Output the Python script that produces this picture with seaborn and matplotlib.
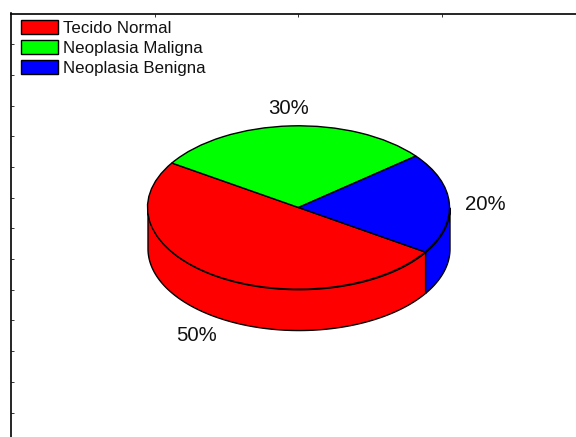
import numpy as np
import matplotlib
matplotlib.use('Agg')
import matplotlib.pyplot as plt
import seaborn as sns

# dados
categorias = ['Tecido Normal', 'Neoplasia Maligna', 'Neoplasia Benigna']
valores = [50, 30, 20]
cores = ['#ff0000', '#00ff00', '#0000ff']

W, H = 576, 437
# geometria do disco em pixels
CX, CY, RX, RY = 298.5, 207.5, 151, 81.7
PROF = 0.5
INICIO = 327

sns.set_theme(style='ticks')
plt.rcParams['font.family'] = ['Liberation Sans', 'DejaVu Sans']
paleta = sns.color_palette(cores)

fig = plt.figure(figsize=(W / 100, H / 100), dpi=100)
esq, dir_, topo, base = 11, 585, 13.5, 443.3
ax = fig.add_axes([esq / W, 1 - base / H, (dir_ - esq) / W, (base - topo) / H])

wedges, _, autotexts = ax.pie(
    valores, colors=paleta, startangle=INICIO, counterclock=False,
    radius=1, frame=True, autopct='%1.0f%%', pctdistance=1.24,
    wedgeprops={'edgecolor': 'black', 'linewidth': 1, 'zorder': 3},
    textprops={'fontsize': 14.7, 'color': '#111111'},
)
ax.set_aspect('auto')
ax.set_xlim((esq - CX) / RX, (dir_ - CX) / RX)
ax.set_ylim((CY - base) / RY, (CY - topo) / RY)

# rotulos da frente descem junto com a lateral
for t in autotexts:
    x, y = t.get_position()
    if y < 0:
        y -= PROF
    t.set_position((x, y - 0.03))

# lateral do disco: parte frontal de cada fatia
ang = INICIO
for val, cor in zip(valores, paleta):
    fim = ang - val / sum(valores) * 360
    a0, a1 = sorted([ang, fim])
    for volta in (0, 360):
        ini = max(a0 + volta, 180)
        ult = min(a1 + volta, 360)
        if ult > ini:
            t = np.radians(np.linspace(ini, ult, 100))
            ax.fill_between(np.cos(t), np.sin(t) - PROF, np.sin(t), color=cor,
                            edgecolor='black', linewidth=1, zorder=2)
    ang = fim

# eixos: so topo e esquerda, com marcas para dentro
sns.despine(ax=ax, top=False, right=True, left=False, bottom=True)
ax.spines['top'].set_linewidth(1.2)
ax.spines['left'].set_linewidth(1.2)
ax.spines['top'].set_color('black')
ax.spines['left'].set_color('black')
ax.xaxis.tick_top()
ax.set_xticks((np.array([155, 298, 442]) - CX) / RX)
ax.set_yticks((CY - (topo + 30.7 * np.arange(1, 14))) / RY)
ax.tick_params(direction='in', length=2, width=0.7, color='#333333',
               labeltop=False, labelleft=False, labelbottom=False)

ax.legend(wedges, categorias, loc='upper left',
          bbox_to_anchor=(21 / W, 1 - 20 / H), bbox_transform=fig.transFigure,
          frameon=False, fontsize=12.2, borderpad=0, borderaxespad=0,
          handlelength=2.18, handleheight=0.85, handletextpad=0.3,
          labelspacing=0.27, labelcolor='#111111')

fig.savefig('out.png', dpi=100)
